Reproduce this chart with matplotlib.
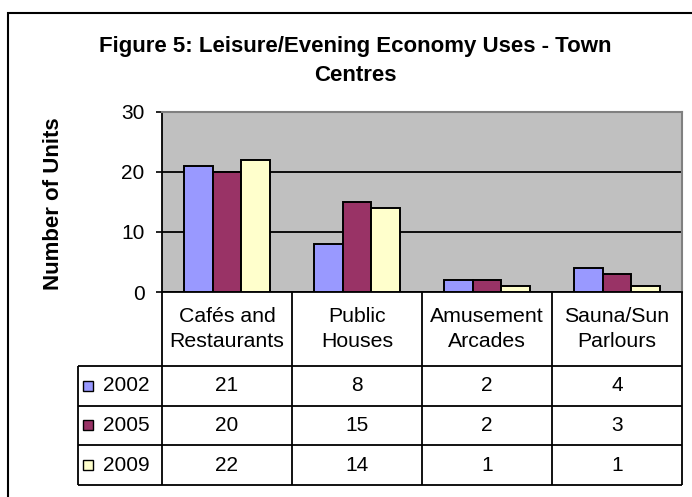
"""Leisure/Evening Economy Uses - Town Centres: bar chart with data table."""

import matplotlib.pyplot as plt
from matplotlib.patches import Rectangle

categories = ['Cafés and\nRestaurants', 'Public\nHouses', 'Amusement\nArcades', 'Sauna/Sun\nParlours']
years = ['2002', '2005', '2009']
units_2002 = [21, 8, 2, 4]
units_2005 = [20, 15, 2, 3]
units_2009 = [22, 14, 1, 1]
colors = ['#9999FF', '#993366', '#FFFFCC']

plt.rcParams['font.family'] = ['Liberation Sans', 'DejaVu Sans']

W, H = 692, 497
fig = plt.figure(figsize=(W / 100, H / 100), dpi=100)


def box(x0, y0, x1, y1):
    # pixel box with top-left origin -> figure fraction rect
    return [x0 / W, 1 - y1 / H, (x1 - x0) / W, (y1 - y0) / H]


# outer chart border (right/bottom run off the picture)
fig.add_artist(Rectangle((8 / W, 1 - 530 / H), 720 / W, 517 / H, transform=fig.transFigure,
                         fill=False, edgecolor='black', linewidth=1.5))

# main plot
ax = fig.add_axes(box(162, 112, 682, 292))
ax.set_facecolor('#C0C0C0')
series = [units_2002, units_2005, units_2009]
bw = 0.223
xs = range(len(categories))
for i, (vals, c) in enumerate(zip(series, colors)):
    ax.bar([k + (i - 1) * bw for k in xs], vals, bw, color=c, edgecolor='black',
           linewidth=1.4, zorder=3)
ax.set_xlim(-0.5, 3.5)
ax.set_ylim(0, 30)
ax.set_yticks([0, 10, 20, 30])
ax.set_xticks([])
ax.yaxis.grid(True, color='black', linewidth=1.3)
ax.set_axisbelow(True)
ax.tick_params(axis='y', length=4.5, width=1.2, pad=8, labelsize=15)
for s in ['left', 'bottom']:
    ax.spines[s].set_linewidth(1.3)
for s in ['top', 'right']:
    ax.spines[s].set_color('#808080')
    ax.spines[s].set_linewidth(1.5)

fig.text(54 / W, 1 - 204 / H, 'Number of Units', rotation=90, fontsize=16,
         fontweight='bold', ha='center', va='center')
fig.text(355 / W, 1 - 61 / H, 'Figure 5: Leisure/Evening Economy Uses - Town\nCentres',
         fontsize=16, fontweight='bold', ha='center', va='center', linespacing=1.45)

# data table below the plot
tx = fig.add_axes(box(78, 292, 682, 485))
left = -0.5 - 84 / 130
hdr = 74 / 39.67
tx.set_xlim(left, 3.5)
tx.set_ylim(3, -hdr)
tx.axis('off')
lw = 1.3
tx.vlines([k - 0.5 for k in range(len(categories) + 1)], -hdr, 3, color='black',
          linewidth=lw, clip_on=False)
tx.vlines(left, 0, 3, color='black', linewidth=lw, clip_on=False)
tx.hlines(range(4), left, 3.5, color='black', linewidth=lw, clip_on=False)

for k, cat in enumerate(categories):
    tx.text(k, -hdr / 2, cat, ha='center', va='center', fontsize=15.3, linespacing=1.45)

for r, (yr, vals, c) in enumerate(zip(years, series, colors)):
    tx.plot(left + 9.5 / 130, r + 0.5, marker='s', markersize=6.5, markerfacecolor=c,
            markeredgecolor='black', markeredgewidth=1, clip_on=False)
    tx.text(left + 25 / 130, r + 0.5, yr, ha='left', va='center', fontsize=15)
    for k, v in enumerate(vals):
        tx.text(k, r + 0.5, str(v), ha='center', va='center', fontsize=15)

fig.savefig('out.png', dpi=100)
